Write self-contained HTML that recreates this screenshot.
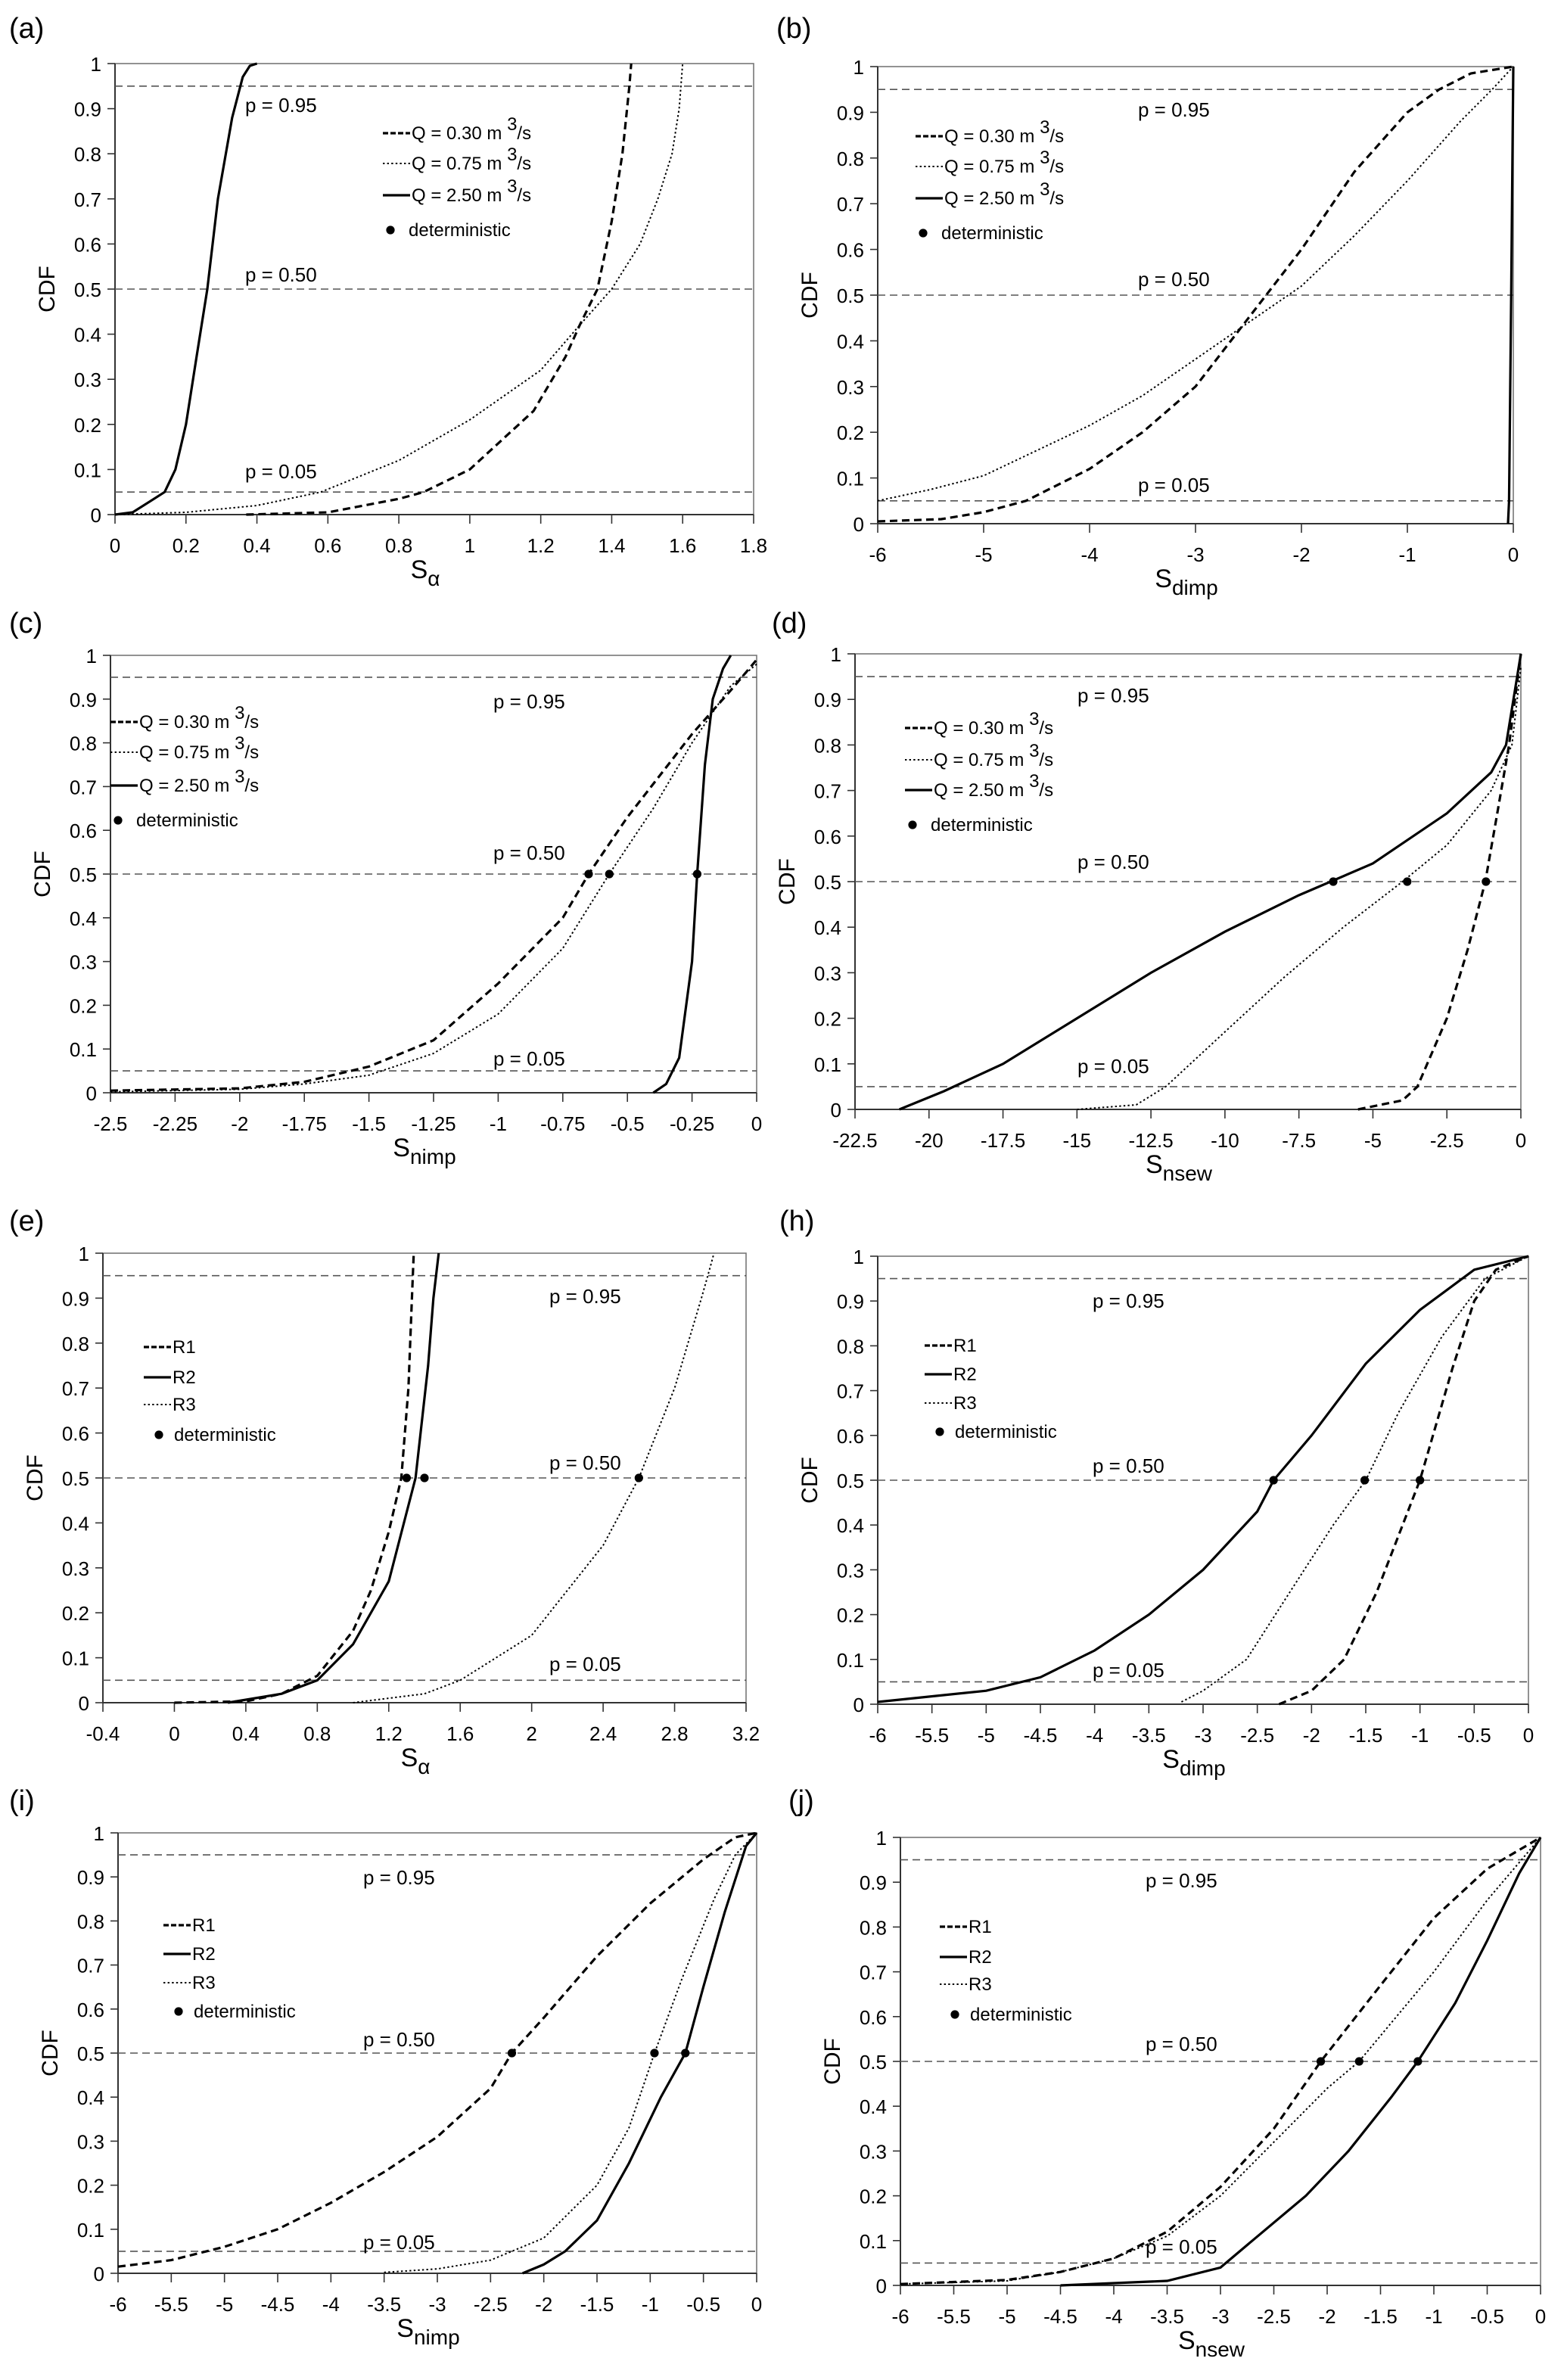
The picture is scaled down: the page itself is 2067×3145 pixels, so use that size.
<!DOCTYPE html>
<html><head><meta charset="utf-8"><style>
html,body{margin:0;padding:0;background:#fff;}
svg{display:block;font-family:"Liberation Sans",sans-serif;}
</style></head><body>
<svg id="fig" width="2067" height="3145" viewBox="0 0 1033.5 1572.5" xmlns="http://www.w3.org/2000/svg"></svg>
<script>
const aQ030x=[0.37,0.6,0.8,0.87,1.0,1.18,1.27,1.31,1.36,1.4,1.43,1.45,1.455];
const aQ030p=[0,0.005,0.035,0.05,0.1,0.23,0.35,0.42,0.5,0.65,0.8,0.95,1];
const aQ075x=[0,0.2,0.4,0.58,0.8,1.0,1.2,1.31,1.4,1.48,1.53,1.57,1.59,1.6];
const aQ075p=[0,0.005,0.02,0.05,0.12,0.21,0.32,0.42,0.5,0.6,0.7,0.8,0.9,1];
const aQ250x=[0,0.05,0.1,0.14,0.17,0.2,0.23,0.26,0.29,0.33,0.36,0.38,0.4];
const aQ250p=[0,0.005,0.03,0.05,0.1,0.2,0.35,0.5,0.7,0.88,0.97,0.995,1];

const bQ030x=[-6,-5.4,-5,-4.6,-4,-3.5,-3,-2.5,-2,-1.5,-1,-0.7,-0.4,0];
const bQ030p=[0.005,0.01,0.025,0.05,0.12,0.2,0.3,0.45,0.6,0.77,0.9,0.95,0.985,1];
const bQ075x=[-6,-5.5,-5,-4.5,-4,-3.5,-3,-2.5,-2,-1.5,-1,-0.5,-0.2,0];
const bQ075p=[0.05,0.075,0.105,0.16,0.215,0.28,0.36,0.44,0.52,0.63,0.75,0.88,0.95,1];
const bQ250x=[-0.05,-0.04,-0.02,0];
const bQ250p=[0,0.05,0.5,1];

const cQ030x=[-2.5,-2,-1.75,-1.5,-1.25,-1,-0.75,-0.65,-0.5,-0.25,-0.1,0];
const cQ030p=[0.005,0.01,0.025,0.06,0.12,0.25,0.4,0.5,0.63,0.82,0.92,0.99];
const cQ075x=[-2.5,-2,-1.75,-1.5,-1.25,-1,-0.75,-0.57,-0.4,-0.25,-0.1,0];
const cQ075p=[0.002,0.008,0.02,0.04,0.09,0.18,0.33,0.5,0.65,0.8,0.93,0.98];
const cQ250x=[-0.4,-0.35,-0.3,-0.25,-0.23,-0.2,-0.17,-0.13,-0.1];
const cQ250p=[0,0.02,0.08,0.3,0.5,0.75,0.9,0.97,1];
const cDetX=[-0.65,-0.57,-0.23];

const dQ030x=[-5.5,-4,-3.5,-2.5,-1.8,-1.2,-0.8,-0.4,-0.1,0];
const dQ030p=[0,0.02,0.05,0.2,0.35,0.5,0.65,0.8,0.95,1];
const dQ075x=[-15,-13,-12,-10,-8,-6,-4,-2.5,-1,-0.3,0];
const dQ075p=[0,0.01,0.05,0.17,0.29,0.4,0.5,0.58,0.7,0.8,0.97];
const dQ250x=[-21,-19.5,-17.5,-15,-12.5,-10,-7.5,-5,-2.5,-1,-0.5,0];
const dQ250p=[0,0.04,0.1,0.2,0.3,0.39,0.47,0.54,0.65,0.74,0.8,1];
const dDetX=[-6.34,-3.84,-1.18];

const eR1x=[0,0.4,0.6,0.8,1.0,1.1,1.2,1.27,1.31,1.33,1.34];
const eR1p=[0,0.003,0.02,0.06,0.16,0.25,0.38,0.5,0.7,0.9,1];
const eR2x=[0.3,0.6,0.8,1.0,1.2,1.35,1.42,1.45,1.48];
const eR2p=[0,0.02,0.05,0.13,0.27,0.5,0.75,0.9,1];
const eR3x=[1.0,1.4,1.6,2.0,2.4,2.6,2.8,2.95,3.0,3.02];
const eR3p=[0,0.02,0.05,0.15,0.35,0.5,0.7,0.9,0.97,1];
const eDetX=[1.3,1.4,2.6];

const hR1x=[-2.3,-2,-1.7,-1.4,-1,-0.7,-0.5,-0.3,0];
const hR1p=[0,0.03,0.1,0.25,0.5,0.75,0.9,0.97,1];
const hR2x=[-6,-5,-4.5,-4,-3.5,-3,-2.5,-2.35,-2,-1.5,-1,-0.5,0];
const hR2p=[0.005,0.03,0.06,0.12,0.2,0.3,0.43,0.5,0.6,0.76,0.88,0.97,1];
const hR3x=[-3.2,-3,-2.6,-2.2,-1.8,-1.5,-1.2,-0.8,-0.4,0];
const hR3p=[0.005,0.03,0.1,0.25,0.4,0.5,0.65,0.82,0.95,1];
const hDetX=[-2.35,-1.51,-1.0];

const iR1x=[-6,-5.5,-5,-4.5,-4,-3.5,-3,-2.5,-2.3,-2,-1.5,-1,-0.5,-0.2,0];
const iR1p=[0.015,0.03,0.06,0.1,0.16,0.23,0.31,0.42,0.5,0.58,0.72,0.84,0.94,0.99,1];
const iR2x=[-2.2,-2,-1.8,-1.5,-1.2,-0.9,-0.67,-0.5,-0.3,-0.1,0];
const iR2p=[0,0.02,0.05,0.12,0.25,0.4,0.5,0.65,0.82,0.97,1];
const iR3x=[-3.5,-3,-2.5,-2,-1.5,-1.2,-0.96,-0.7,-0.4,-0.2,0];
const iR3p=[0.002,0.01,0.03,0.08,0.2,0.33,0.5,0.67,0.85,0.95,1];
const iDetX=[-2.3,-0.96,-0.67];

const jR1x=[-6,-5,-4.5,-4,-3.5,-3,-2.5,-2.06,-1.5,-1,-0.5,0];
const jR1p=[0.003,0.012,0.03,0.06,0.12,0.22,0.35,0.5,0.67,0.82,0.93,1];
const jR2x=[-4.5,-3.5,-3,-2.7,-2.2,-1.8,-1.4,-1.15,-0.8,-0.5,-0.2,0];
const jR2p=[0,0.01,0.04,0.1,0.2,0.3,0.42,0.5,0.63,0.77,0.92,1];
const jR3x=[-6,-5,-4.5,-4,-3.5,-3,-2.5,-2,-1.7,-1,-0.5,0];
const jR3p=[0.003,0.01,0.03,0.06,0.11,0.2,0.32,0.44,0.5,0.7,0.86,1];
const jDetX=[-2.06,-1.70,-1.15];

const yTicks=[0,0.1,0.2,0.3,0.4,0.5,0.6,0.7,0.8,0.9,1];
const qLegend=["Q = 0.30 m ","Q = 0.75 m ","Q = 2.50 m "];
const rLegend=["R1","R2","R3"];
const pLevels=[0.95,0.5,0.05];
const pLabels=["p = 0.95","p = 0.50","p = 0.05"];

const NS="http://www.w3.org/2000/svg";
const svg=document.getElementById('fig');
function mk(tag,attrs,parent){const e=document.createElementNS(NS,tag);for(const k in attrs)e.setAttribute(k,attrs[k]);(parent||svg).appendChild(e);return e;}
// order of series styles: dashed (Q0.30/R1), solid for R2 / dotted for Q0.75 handled via style key
const DASH={da:"5,3",w:1.6}, DOT={da:"1.2,1.6",w:1.0}, SOLID={da:"",w:1.6};

function panel(o){
  const g=mk('g',{});
  
  
  const sx=v=>o.x0+(v-o.xmin)/(o.xmax-o.xmin)*(o.x1-o.x0);
  const sy=v=>o.y0-v*(o.y0-o.y1);
  const lab=mk('text',{x:o.lx,y:o.ly,'font-size':19},g);lab.textContent='('+o.id+')';
  
  const frame=mk('rect',{x:o.x0,y:o.y1,width:o.x1-o.x0,height:o.y0-o.y1,fill:'none',stroke:'#777','stroke-width':0.8},g);
  
  mk('line',{x1:o.x0,y1:o.y0,x2:o.x1,y2:o.y0,stroke:'#333','stroke-width':1},g);
  mk('line',{x1:o.x0,y1:o.y0,x2:o.x0,y2:o.y1,stroke:'#333','stroke-width':1},g);
  pLevels.forEach((p,i)=>{
    const l=mk('line',{x1:o.x0,y1:sy(p),x2:o.x1,y2:sy(p),stroke:'#555','stroke-width':0.8,'stroke-dasharray':'5,3'},g);
    
    const t=mk('text',{x:o.px,y:o.pys[i],'font-size':13},g);t.textContent=pLabels[i];
    
  });
  yTicks.forEach(v=>{
    mk('line',{x1:o.x0-5,y1:sy(v),x2:o.x0,y2:sy(v),stroke:'#333','stroke-width':0.8},g);
    const t=mk('text',{x:o.x0-9,y:sy(v)+5,'font-size':13,'text-anchor':'end'},g);t.textContent=String(v);
    
  });
  o.xt.forEach(v=>{
    mk('line',{x1:sx(v),y1:o.y0,x2:sx(v),y2:o.y0+6,stroke:'#333','stroke-width':0.8},g);
    const t=mk('text',{x:sx(v),y:o.y0+25,'font-size':13,'text-anchor':'middle'},g);t.textContent=String(v);
    
  });
  const yt=mk('text',{x:0,y:0,'font-size':15,'text-anchor':'middle',transform:`translate(${o.x0-40},${(o.y0+o.y1)/2}) rotate(-90)`},g);
  yt.textContent='CDF';
  const xt=mk('text',{x:(o.x0+o.x1)/2-6,y:o.y0+42,'font-size':17,'text-anchor':'middle'},g);
  
  xt.appendChild(document.createTextNode('S'));
  const sub=mk('tspan',{'font-size':14,dy:5},xt);sub.textContent=o.sub;
  o.series.forEach((s,i)=>{
    const st=o.styles[i];
    const d=s[0].map((v,k)=>(k?'L':'M')+sx(v).toFixed(1)+','+sy(s[1][k]).toFixed(1)).join(' ');
    const attrs={d:d,fill:'none',stroke:'#000','stroke-width':st.w};
    if(st.da)attrs['stroke-dasharray']=st.da;
    const p=mk('path',attrs,g);
    
    
  });
  (o.det||[]).forEach(v=>{
    const c=mk('circle',{cx:sx(v),cy:sy(0.5),r:2.8,fill:'#000'},g);
    
  });
  const lg=mk('g',{},g);
  const legSt=o.r?[DASH,SOLID,DOT]:[DASH,DOT,SOLID];
  for(let i=0;i<3;i++){
    const y=o.legY[i];
    const st=legSt[i];
    const la={x1:o.legX,y1:y-4,x2:o.legX+18,y2:y-4,stroke:'#000','stroke-width':st.w};
    if(st.da)la['stroke-dasharray']=st.da==='5,3'?'3.5,1.5':st.da;
    mk('line',la,lg);
    const t=mk('text',{x:o.legX+19,y:y,'font-size':12},lg);
    
    if(o.r){t.textContent=rLegend[i];}
    else{t.appendChild(document.createTextNode(qLegend[i]));const sp=mk('tspan',{dy:-6,'font-size':12},t);sp.textContent='3';const s2=mk('tspan',{dy:6},t);s2.textContent='/s';}
  }
  mk('circle',{cx:o.legX+(o.r?10:5),cy:o.legY[3]-4,r:2.8,fill:'#000'},lg);
  const dt=mk('text',{x:o.legX+(o.r?20:17),y:o.legY[3],'font-size':12},lg);dt.textContent='deterministic';
  
}
function rng(a,b,s){const r=[];const n=Math.round((b-a)/s);for(let i=0;i<=n;i++)r.push(+(a+i*s).toFixed(2));return r;}

const QS=[DASH,DOT,SOLID], RS=[DASH,SOLID,DOT];
panel({id:'a',x0:76,x1:498,y0:340,y1:42,xmin:0,xmax:1.8,xt:rng(0,1.8,0.2),sub:'α',lx:6,ly:25,
 px:162,pys:[74,186,316],legX:253,legY:[92,112,133,156],styles:QS,
 series:[[aQ030x,aQ030p],[aQ075x,aQ075p],[aQ250x,aQ250p]]});
panel({id:'b',x0:580,x1:1000,y0:346,y1:44,xmin:-6,xmax:0,xt:rng(-6,0,1),sub:'dimp',lx:513,ly:25,
 px:752,pys:[77,189,325],legX:605,legY:[94,114,135,158],styles:QS,
 series:[[bQ030x,bQ030p],[bQ075x,bQ075p],[bQ250x,bQ250p]]});
panel({id:'c',x0:73,x1:500,y0:722,y1:433,xmin:-2.5,xmax:0,xt:rng(-2.5,0,0.25),sub:'nimp',lx:6,ly:418,
 px:326,pys:[468,568,704],legX:73,legY:[481,501,523,546],styles:QS,det:cDetX,
 series:[[cQ030x,cQ030p],[cQ075x,cQ075p],[cQ250x,cQ250p]]});
panel({id:'d',x0:565,x1:1005,y0:733,y1:432,xmin:-22.5,xmax:0,xt:rng(-22.5,0,2.5),sub:'nsew',lx:510,ly:418,
 px:712,pys:[464,574,709],legX:598,legY:[485,506,526,549],styles:QS,det:dDetX,
 series:[[dQ030x,dQ030p],[dQ075x,dQ075p],[dQ250x,dQ250p]]});
panel({id:'e',x0:68,x1:493,y0:1125,y1:828,xmin:-0.4,xmax:3.2,xt:rng(-0.4,3.2,0.4),sub:'α',lx:6,ly:813,
 px:363,pys:[861,971,1104],legX:95,legY:[894,914,932,952],styles:RS,det:eDetX,r:true,
 series:[[eR1x,eR1p],[eR2x,eR2p],[eR3x,eR3p]]});
panel({id:'h',x0:580,x1:1010,y0:1126,y1:830,xmin:-6,xmax:0,xt:rng(-6,0,0.5),sub:'dimp',lx:515,ly:813,
 px:722,pys:[864,973,1108],legX:611,legY:[893,912,931,950],styles:RS,det:hDetX,r:true,
 series:[[hR1x,hR1p],[hR2x,hR2p],[hR3x,hR3p]]});
panel({id:'i',x0:78,x1:500,y0:1502,y1:1211,xmin:-6,xmax:0,xt:rng(-6,0,0.5),sub:'nimp',lx:6,ly:1196,
 px:240,pys:[1245,1352,1486],legX:108,legY:[1276,1295,1314,1333],styles:RS,det:iDetX,r:true,
 series:[[iR1x,iR1p],[iR2x,iR2p],[iR3x,iR3p]]});
panel({id:'j',x0:595,x1:1018,y0:1510,y1:1214,xmin:-6,xmax:0,xt:rng(-6,0,0.5),sub:'nsew',lx:521,ly:1196,
 px:757,pys:[1247,1355,1489],legX:621,legY:[1277,1297,1315,1335],styles:RS,det:jDetX,r:true,
 series:[[jR1x,jR1p],[jR2x,jR2p],[jR3x,jR3p]]});
</script>
</body></html>
